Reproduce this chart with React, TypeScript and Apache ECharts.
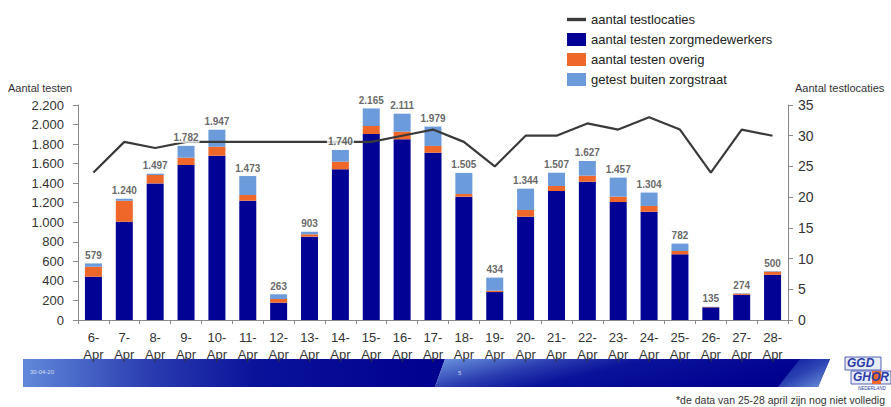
import React, { useEffect, useRef } from "react";
import * as echarts from "echarts";

const categories = [
  "6-Apr", "7-Apr", "8-Apr", "9-Apr", "10-Apr", "11-Apr", "12-Apr", "13-Apr",
  "14-Apr", "15-Apr", "16-Apr", "17-Apr", "18-Apr", "19-Apr", "20-Apr", "21-Apr",
  "22-Apr", "23-Apr", "24-Apr", "25-Apr", "26-Apr", "27-Apr", "28-Apr",
];
const zorgmedewerkers = [443, 1006, 1398, 1586, 1681, 1221, 177, 853, 1542, 1903, 1849, 1712, 1262, 286, 1057, 1320, 1415, 1207, 1108, 672, 130, 258, 462];
const overig = [102, 215, 86, 75, 92, 58, 38, 24, 78, 82, 78, 69, 27, 14, 69, 51, 62, 55, 59, 34, 3, 12, 33];
const buitenZorgstraat = [34, 19, 13, 121, 174, 194, 48, 26, 120, 180, 184, 198, 216, 134, 218, 136, 150, 195, 137, 76, 2, 4, 5];
const totals = [579, 1240, 1497, 1782, 1947, 1473, 263, 903, 1740, 2165, 2111, 1979, 1505, 434, 1344, 1507, 1627, 1457, 1304, 782, 135, 274, 500];
const testlocaties = [24, 29, 28, 29, 29, 29, 29, 29, 29, 29, 30, 31, 29, 25, 30, 30, 32, 31, 33, 31, 24, 31, 30];

const FONT = "Liberation Sans, Arial, sans-serif";
const fmt = (v: number) => String(v).replace(/\B(?=(\d{3})+(?!\d))/g, ".");

export default function App() {
  const ref = useRef<HTMLDivElement>(null);
  useEffect(() => {
    document.body.style.margin = "0";
    const chart = echarts.init(ref.current!, null, { renderer: "svg" });
    const axisColor = "#8a8a8a";
    const logoBlue = "#2b3ca6";
    chart.setOption({
      animation: false,
      textStyle: { fontFamily: FONT },
      grid: { left: 78, right: 103, top: 105, bottom: 87 },
      legend: {
        orient: "vertical",
        left: 562,
        top: 8,
        itemWidth: 19,
        itemHeight: 13,
        itemGap: 7,
        textStyle: { fontFamily: FONT, fontSize: 13, color: "#222" },
        data: [
          { name: "aantal testlocaties", icon: "path://M0,0 L17,0 L17,3 L0,3 Z" },
          { name: "aantal testen zorgmedewerkers", icon: "rect" },
          { name: "aantal testen overig", icon: "rect" },
          { name: "getest buiten zorgstraat", icon: "rect" },
        ],
      },
      xAxis: {
        type: "category",
        data: categories,
        axisLine: { lineStyle: { color: axisColor } },
        axisTick: { show: true, length: 4, lineStyle: { color: axisColor } },
        axisLabel: {
          interval: 0,
          fontSize: 13,
          color: "#333",
          lineHeight: 17,
          margin: 9,
          formatter: (v: string) => v.replace("-", "-\n"),
        },
      },
      yAxis: [
        {
          type: "value",
          min: 0,
          max: 2200,
          interval: 200,
          splitLine: { show: false },
          axisLine: { show: true, lineStyle: { color: axisColor } },
          axisTick: { show: true, length: 5, lineStyle: { color: axisColor } },
          axisLabel: { fontSize: 13, color: "#333", margin: 14, formatter: (v: number) => fmt(v) },
        },
        {
          type: "value",
          min: 0,
          max: 35,
          interval: 5,
          splitLine: { show: false },
          axisLine: { show: true, lineStyle: { color: axisColor } },
          axisTick: { show: true, length: 5, lineStyle: { color: axisColor } },
          axisLabel: { fontSize: 14, color: "#333", margin: 10 },
        },
      ],
      series: [
        {
          name: "aantal testen zorgmedewerkers",
          type: "bar",
          stack: "t",
          barWidth: 17,
          itemStyle: { color: "#020295" },
          data: zorgmedewerkers,
          z: 2,
        },
        {
          name: "aantal testen overig",
          type: "bar",
          stack: "t",
          barWidth: 17,
          itemStyle: { color: "#f0672a" },
          data: overig,
          z: 2,
        },
        {
          name: "getest buiten zorgstraat",
          type: "bar",
          stack: "t",
          barWidth: 17,
          itemStyle: { color: "#6b9bdb" },
          data: buitenZorgstraat,
          z: 2,
        },
        {
          name: "aantal testlocaties",
          type: "line",
          yAxisIndex: 1,
          data: testlocaties,
          symbol: "none",
          showSymbol: false,
          lineStyle: { color: "#3a3a3a", width: 2.2 },
          itemStyle: { color: "#3a3a3a" },
          z: 3,
        },
        {
          name: "totaal",
          type: "scatter",
          data: totals,
          symbolSize: 0,
          silent: true,
          z: 5,
          label: {
            show: true,
            position: "top",
            distance: 3,
            formatter: (p: any) => fmt(p.value),
            fontFamily: FONT,
            fontSize: 10,
            fontWeight: "bold",
            color: "#404040",
            backgroundColor: "#ffffff",
            padding: [0, 1],
          },
        },
      ],
      graphic: [
        { type: "text", left: 8, top: 82, style: { text: "Aantal testen", fontFamily: FONT, fontSize: 11, fill: "#333" } },
        { type: "text", left: 795, top: 82, style: { text: "Aantal testlocaties", fontFamily: FONT, fontSize: 11, fill: "#333" } },
        {
          type: "polygon",
          shape: { points: [[23, 359], [445, 359], [435, 387], [23, 387]] },
          style: {
            fill: new echarts.graphic.LinearGradient(0, 0, 1, 0, [
              { offset: 0, color: "#6189da" },
              { offset: 0.3, color: "#2a3cb0" },
              { offset: 0.55, color: "#0a129a" },
              { offset: 1, color: "#00008e" },
            ]),
          },
        },
        {
          type: "polygon",
          shape: { points: [[445, 359], [830, 359], [818, 387], [435, 387]] },
          style: {
            fill: new echarts.graphic.LinearGradient(0, 0, 1, 0.3, [
              { offset: 0, color: "#6d97e0" },
              { offset: 0.3, color: "#2a3cb0" },
              { offset: 0.5, color: "#0a129a" },
              { offset: 1, color: "#00008e" },
            ]),
          },
        },
        {
          type: "polygon",
          shape: { points: [[778, 387], [818, 387], [830, 359], [800, 359]] },
          style: {
            fill: new echarts.graphic.LinearGradient(0, 0, 1, 1, [
              { offset: 0, color: "#0a1498" },
              { offset: 0.5, color: "#2c44b4" },
              { offset: 1, color: "#6f97dc" },
            ]),
          },
        },
        { type: "text", left: 30, top: 369, style: { text: "30-04-20", fontFamily: FONT, fontSize: 6, fill: "rgba(255,255,255,0.75)" } },
        { type: "text", left: 458, top: 370, style: { text: "5", fontFamily: FONT, fontSize: 6, fill: "rgba(255,255,255,0.75)" } },
        { type: "rect", shape: { x: 845, y: 357, width: 36, height: 13 }, style: { fill: "#e8ecf8", stroke: logoBlue, lineWidth: 0.8 } },
        { type: "rect", shape: { x: 851, y: 371, width: 40, height: 13 }, style: { fill: "#e8ecf8", stroke: logoBlue, lineWidth: 0.8 } },
        { type: "rect", shape: { x: 872, y: 371, width: 9, height: 13 }, style: { fill: "#f0672a" } },
        { type: "text", left: 847, top: 357, style: { text: "GGD", fontFamily: FONT, fontSize: 12, fontStyle: "italic", fontWeight: "bold", fill: logoBlue } },
        { type: "text", left: 853, top: 371, style: { text: "GHOR", fontFamily: FONT, fontSize: 12, fontStyle: "italic", fontWeight: "bold", fill: logoBlue } },
        { type: "text", left: 858, top: 386, style: { text: "NEDERLAND", fontFamily: FONT, fontSize: 4.5, fontStyle: "italic", fill: logoBlue } },
        { type: "text", right: 6, top: 394, style: { text: "*de data van 25-28 april zijn nog niet volledig", fontFamily: FONT, fontSize: 10.5, fill: "#333" } },
      ],
    });
    return () => chart.dispose();
  }, []);
  return <div ref={ref} style={{ width: 891, height: 407 }} />;
}
